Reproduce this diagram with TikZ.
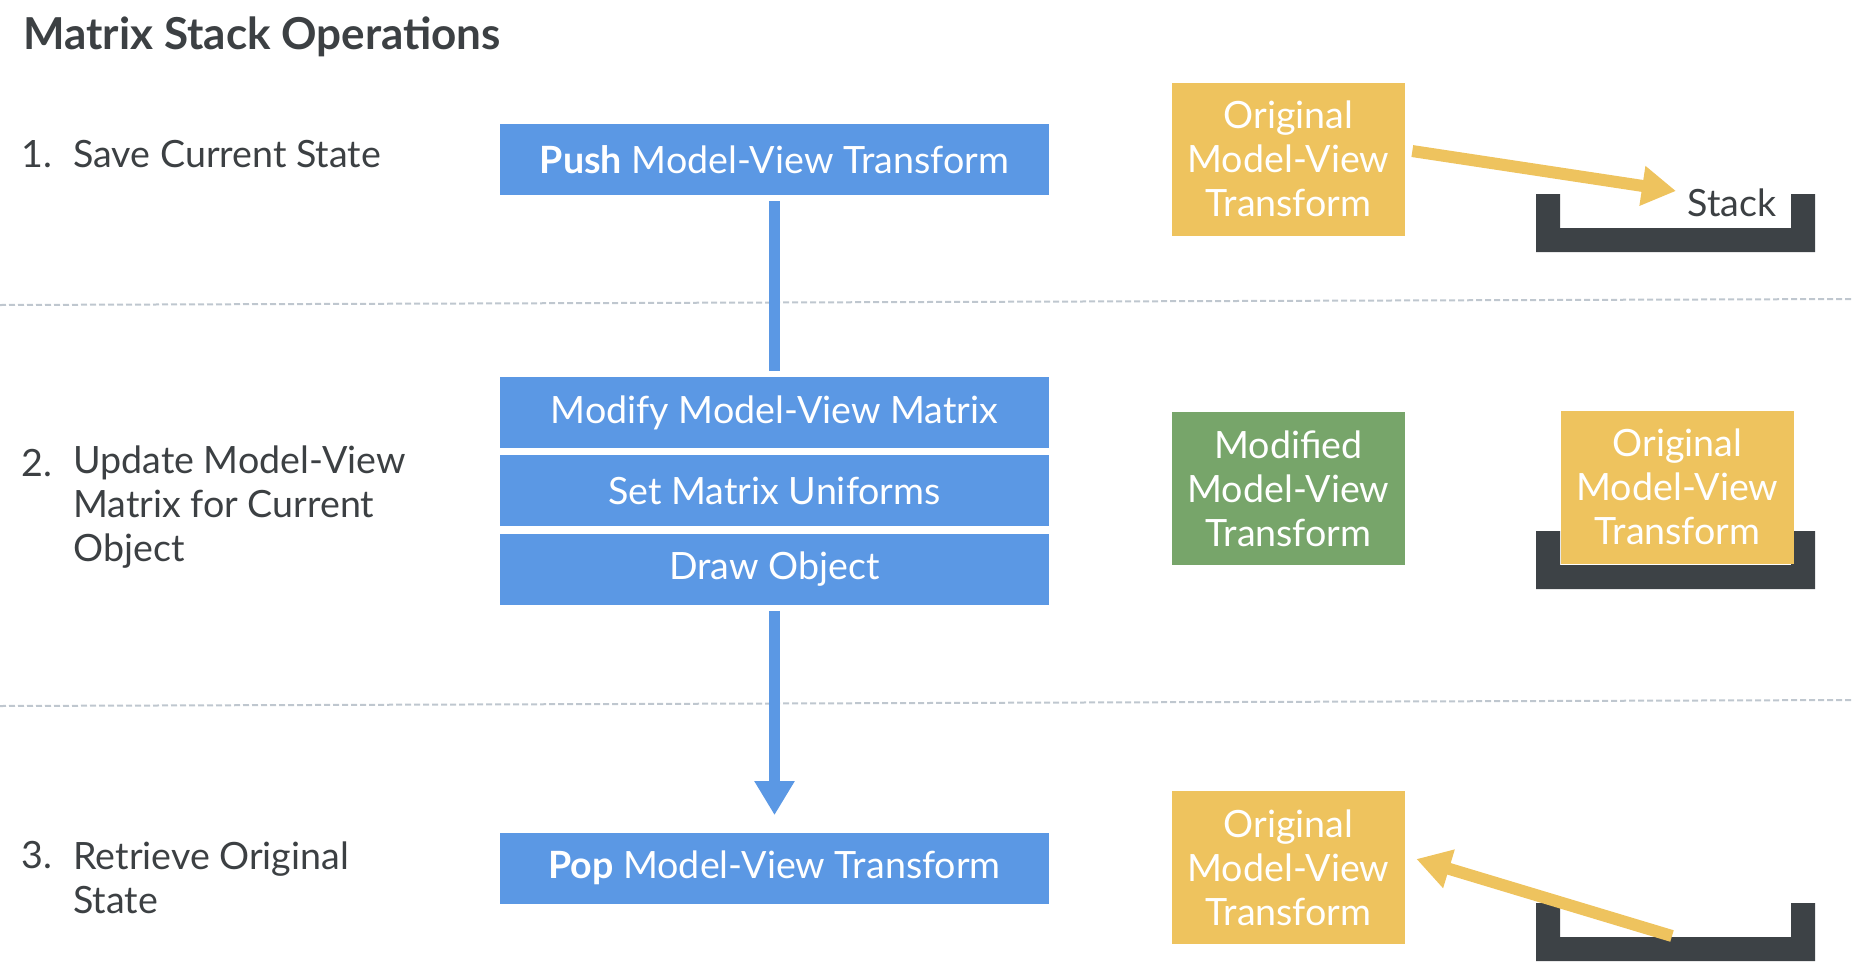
\documentclass[tikz,border=0pt]{standalone}
\usepackage{fontspec}
\setmainfont{Lato}
\usetikzlibrary{arrows.meta}
\definecolor{boxblue}{HTML}{5B98E4}
\definecolor{boxyellow}{HTML}{EEC35E}
\definecolor{boxgreen}{HTML}{77A56A}
\definecolor{stackgray}{HTML}{3D4246}
\definecolor{textgray}{HTML}{3C4043}
\definecolor{dashgray}{HTML}{BFC7CF}
\tikzset{
  stepbox/.style={fill=boxblue, text=white, minimum width=274.5pt, minimum height=35.5pt,
    inner sep=0pt, font=\fontsize{18.8}{22}\selectfont},
  matbox/.style={text=white, minimum width=116.5pt, minimum height=76.5pt,
    inner sep=0pt, align=center, font=\fontsize{18.8}{22}\selectfont},
  lbl/.style={text=textgray, inner sep=0pt, align=left, font=\fontsize{18.8}{22}\selectfont},
  sep/.style={dashgray, line width=1pt, dash pattern=on 3pt off 1.5pt},
  flow/.style={boxblue, line width=5.5pt},
  move/.style={boxyellow, line width=6pt, -{Triangle[width=19pt,length=17pt]}},
}
\begin{document}
\begin{tikzpicture}[x=0.5pt, y=-0.5pt]
  \useasboundingbox (0,0) rectangle (1853,980);
  % 标题
  \node[lbl, anchor=west, font=\fontsize{22}{24}\selectfont\bfseries] (title) at (23,37) {Matrix Stack Operations};
  % 分隔线
  \draw[sep] (0,305) -- (1853,299);
  \draw[sep] (0,706) -- (1853,700);
  % 左侧步骤
  \node[lbl, anchor=west] (n1) at (21,154) {1.};
  \node[lbl, anchor=west] (t1) at (73,154) {Save Current State};
  \node[lbl, anchor=west] (n2) at (21,463) {2.};
  \node[lbl, anchor=west] (t2) at (73,507.5) {Update Model-View\\Matrix for Current\\Object};
  \node[lbl, anchor=west] (n3) at (21,855) {3.};
  \node[lbl, anchor=west] (t3) at (73,877.5) {Retrieve Original\\State};
  % 中间流程
  \node[stepbox] (push) at (774.5,159.5) {\textbf{Push} Model-View Transform};
  \node[stepbox] (modify) at (774.5,412.5) {Modify Model-View Matrix};
  \node[stepbox] (set) at (774.5,490.5) {Set Matrix Uniforms};
  \node[stepbox] (draw) at (774.5,569) {Draw Object};
  \node[stepbox] (pop) at (774.5,868) {\textbf{Pop} Model-View Transform};
  \draw[flow, shorten <=3pt, shorten >=3pt] (push) -- (modify);
  \draw[flow, -{Triangle[width=19pt,length=17pt]}, shorten <=3pt, shorten >=8.5pt] (draw) -- (pop);
  % 栈
  \foreach \t in {194,531,903}
    \fill[stackgray] (1536,\t) -- ++(24,0) -- ++(0,34) -- ++(231,0) -- ++(0,-34)
      -- ++(24,0) -- ++(0,58) -- ++(-279,0) -- cycle;
  \node[lbl] (stk) at (1732,203) {Stack};
  % 矩阵
  \node[matbox, fill=boxyellow] (orig1) at (1288.5,159) {Original\\Model-View\\Transform};
  \node[matbox, fill=boxgreen] (modif) at (1288.5,488.5) {Modified\\Model-View\\Transform};
  \node[matbox, fill=boxyellow] (orig2) at (1677.5,487) {Original\\Model-View\\Transform};
  \node[matbox, fill=boxyellow] (orig3) at (1288.5,867.5) {Original\\Model-View\\Transform};
  % 压栈与出栈
  \coordinate (in1) at (1676,191);
  \draw[move, shorten <=3.5pt] ([yshift=4.5pt]orig1.east) -- (in1);
  \coordinate (out3) at (1672,936);
  \draw[move] (out3) -- ([xshift=5.5pt,yshift=4.25pt]orig3.east);
\end{tikzpicture}
\end{document}
